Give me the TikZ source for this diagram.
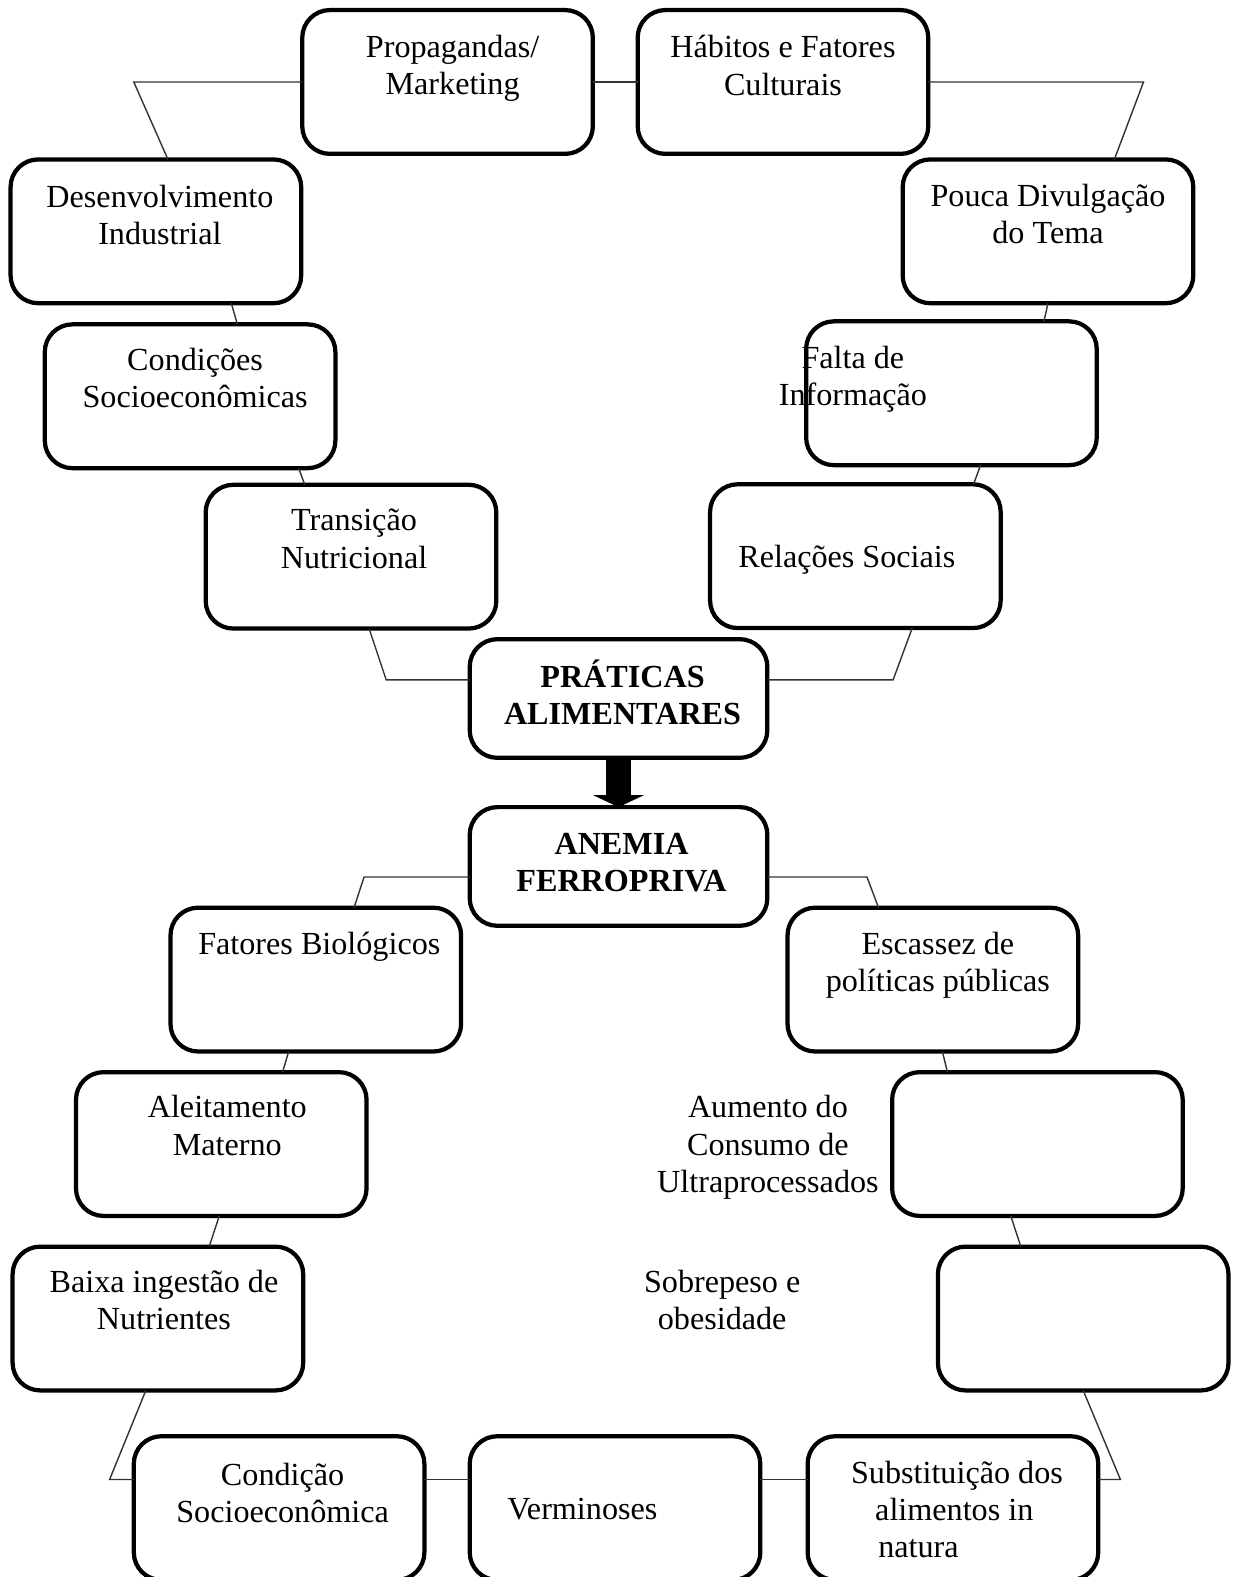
\documentclass[tikz,border=0pt]{standalone}
\usepackage{fontspec}
\setmainfont{Liberation Serif}
\usepackage{tikz}
\usetikzlibrary{arrows.meta, positioning, calc}

\begin{document}
\begin{tikzpicture}[x=0.02cm, y=-0.02cm,
    caixa/.style={draw, line width=2.4pt, rounded corners=0.55cm, outer sep=0pt, inner sep=0pt, minimum width=5.78cm, minimum height=2.86cm},
    centro/.style={caixa, minimum width=5.92cm, minimum height=2.36cm},
    texto/.style={align=center, inner sep=0pt, font=\fontsize{18.2}{21}\selectfont, execute at begin node=\strut},
    forte/.style={texto, font=\fontsize{18.2}{21}\selectfont\bfseries},
    liga/.style={draw=black!80, line width=0.8pt}]
    \useasboundingbox (0,0) rectangle (1225,1568);
    \clip (0,0) rectangle (1225,1568);

    \node[caixa] (prop) at (445,81.5) {};
    \node[caixa] (habit) at (778.5,81.5) {};
    \node[caixa] (desenv) at (155,230) {};
    \node[caixa] (pouca) at (1042,230) {};
    \node[caixa] (cond) at (189,394) {};
    \node[caixa] (falta) at (946,391) {};
    \node[caixa] (trans) at (349,553.5) {};
    \node[caixa] (rel) at (850.5,553) {};
    \node[centro] (prat) at (615,694.5) {};
    \node[centro] (anem) at (615,861.5) {};
    \node[caixa] (fat) at (314,974) {};
    \node[caixa] (esc) at (927.5,974) {};
    \node[caixa] (aleit) at (220,1137.5) {};
    \node[caixa] (aum) at (1031.5,1137.5) {};
    \node[caixa] (baixa) at (157,1311) {};
    \node[caixa] (sobre) at (1077,1311) {};
    \node[caixa] (condi) at (277.5,1499.5) {};
    \node[caixa] (verm) at (611.5,1499.5) {};
    \node[caixa] (subst) at (947.5,1499.5) {};

    \node[texto, below=0.5cm of prop.north, xshift=0.1cm] (propT) {Propagandas/\\Marketing};
    \node[texto, below=0.5cm of habit.north] (habitT) {Hábitos e Fatores\\Culturais};
    \node[texto, below=0.5cm of desenv.north, xshift=0.08cm] (desenvT) {Desenvolvimento\\Industrial};
    \node[texto, below=0.48cm of pouca.north] (poucaT) {Pouca Divulgação\\do Tema};
    \node[texto, below=0.46cm of cond.north, xshift=0.1cm] (condT) {Condições\\Socioeconômicas};
    \node[texto, below=0.48cm of falta.north, xshift=-1.96cm] (faltaT) {Falta de\\Informação};
    \node[texto, below=0.48cm of trans.north, xshift=0.06cm] (transT) {Transição\\Nutricional};
    \node[texto, below=1.14cm of rel.north, xshift=-0.17cm] (relT) {Relações Sociais};
    \node[forte, below=0.4cm of prat.north, xshift=0.08cm] (pratT) {PRÁTICAS\\ALIMENTARES};
    \node[forte, below=0.52cm of anem.north, xshift=0.06cm] (anemT) {ANEMIA\\FERROPRIVA};
    \node[texto, below=0.4cm of fat.north, xshift=0.07cm] (fatT) {Fatores Biológicos};
    \node[texto, below=0.48cm of esc.north, xshift=0.1cm] (escT) {Escassez de\\políticas públicas};
    \node[texto, below=0.46cm of aleit.north, xshift=0.12cm] (aleitT) {Aleitamento\\Materno};
    \node[texto, below=0.46cm of aum.north, xshift=-5.36cm] (aumT) {Aumento do\\Consumo de\\Ultraprocessados};
    \node[texto, below=0.46cm of baixa.north, xshift=0.12cm] (baixaT) {Baixa ingestão de\\Nutrientes};
    \node[texto, below=0.46cm of sobre.north, xshift=-7.18cm] (sobreT) {Sobrepeso e\\obesidade};
    \node[texto, below=0.52cm of condi.north, xshift=0.07cm] (condiT) {Condição\\Socioeconômica};
    \node[texto, below=1.14cm of verm.north, xshift=-0.65cm] (vermT) {Verminoses};
    \node[texto, align=left, below=0.48cm of subst.north, xshift=0.08cm] (substT) {Substituição dos\\\hspace*{0.48cm}alimentos in\\\hspace*{0.54cm}natura};

    \coordinate (dobraA) at (133,81.5);
    \coordinate (dobraB) at (1137,81.5);
    \coordinate (dobraC) at (384,676);
    \coordinate (dobraD) at (888,676);
    \coordinate (dobraE) at (362,872);
    \coordinate (dobraF) at (862,872);
    \coordinate (dobraG) at (109,1471);
    \coordinate (dobraH) at (1114,1471);

    \draw[liga] (prop.west) -- (dobraA) -- ([xshift=0.24cm]desenv.north);
    \draw[liga] (prop.east) -- (habit.west);
    \draw[liga] (habit.east) -- (dobraB) -- ([xshift=1.32cm]pouca.north);
    \draw[liga] ([xshift=1.5cm]desenv.south) -- ([xshift=0.94cm]cond.north);
    \draw[liga] ([xshift=2.16cm]cond.south) -- ([xshift=-0.92cm]trans.north);
    \draw[liga] ([xshift=0.36cm]trans.south) -- (dobraC) -- (prat.west |- dobraC);
    \draw[liga] (pouca.south) -- ([xshift=1.84cm]falta.north);
    \draw[liga] ([xshift=0.58cm]falta.south) -- ([xshift=2.35cm]rel.north);
    \draw[liga] ([xshift=1.13cm]rel.south) -- (dobraD) -- (prat.east |- dobraD);
    \draw[liga] (anem.west |- dobraE) -- (dobraE) -- ([xshift=0.76cm]fat.north);
    \draw[liga] (anem.east |- dobraF) -- (dobraF) -- ([xshift=-1.08cm]esc.north);
    \draw[liga] ([xshift=-0.54cm]fat.south) -- ([xshift=1.22cm]aleit.north);
    \draw[liga] ([xshift=0.19cm]esc.south) -- ([xshift=-1.79cm]aum.north);
    \draw[liga] ([xshift=-0.04cm]aleit.south) -- ([xshift=1.02cm]baixa.north);
    \draw[liga] ([xshift=-0.53cm]aum.south) -- ([xshift=-1.24cm]sobre.north);
    \draw[liga] ([xshift=-0.24cm]baixa.south) -- (dobraG) -- (condi.west |- dobraG);
    \draw[liga] (condi.east |- dobraG) -- (verm.west |- dobraG);
    \draw[liga] (verm.east |- dobraG) -- (subst.west |- dobraG);
    \draw[liga] (sobre.south) -- (dobraH) -- (subst.east |- dobraH);

    \draw[line width=0.5cm, -{Triangle[length=0.24cm, width=1.02cm, line width=0pt]}] (prat.south) -- (anem.north);
\end{tikzpicture}
\end{document}
